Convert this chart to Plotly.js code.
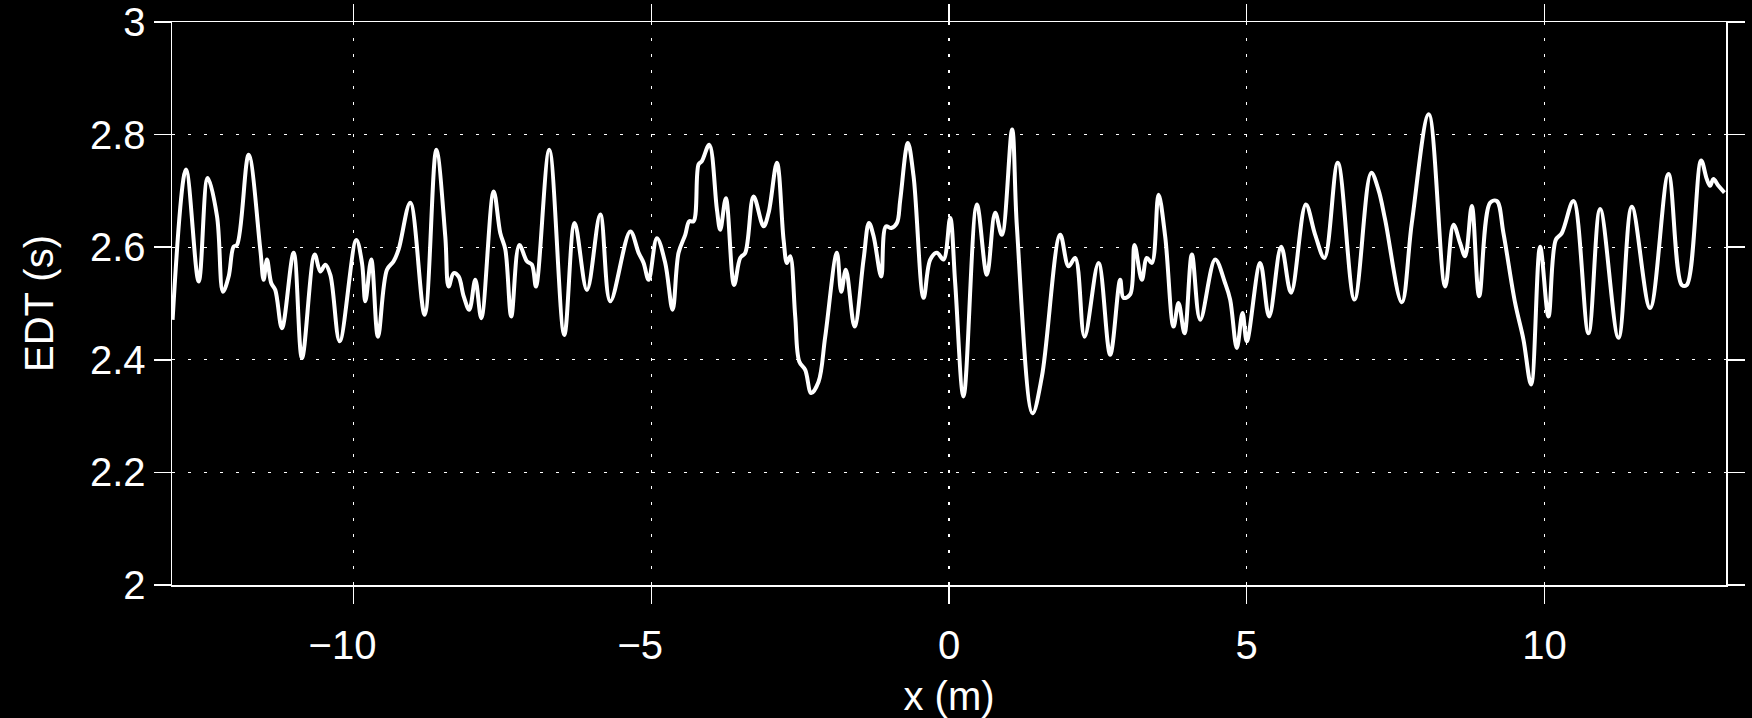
<!DOCTYPE html>
<html>
<head>
<meta charset="utf-8">
<script src="https://cdn.plot.ly/plotly-3.0.1.min.js"></script>
<style>
  html, body { margin: 0; padding: 0; background: #000; }
  #chart { width: 1752px; height: 718px; }
</style>
</head>
<body>
<div id="chart"></div>
<script>
// Position along the room (m)
const xPos = [
  -13.04, -12.815, -12.602, -12.451, -12.294, -12.194, -12.098, -12.015, -11.958, -11.763,
  -11.567, -11.511, -11.455, -11.382, -11.315, -11.203, -11.007, -10.867, -10.654, -10.559,
  -10.475, -10.391, -10.234, -9.955, -9.859, -9.803, -9.703, -9.591, -9.440, -9.328,
  -9.244, -9.048, -8.807, -8.611, -8.460, -8.404, -8.320, -8.236, -8.152, -8.057,
  -7.956, -7.855, -7.648, -7.536, -7.452, -7.352, -7.217, -7.089, -7.005, -6.937,
  -6.714, -6.462, -6.288, -6.081, -5.857, -5.689, -5.353, -5.213, -5.129, -5.045,
  -4.906, -4.766, -4.642, -4.542, -4.430, -4.363, -4.290, -4.206, -4.150, -4.027,
  -3.898, -3.842, -3.747, -3.610, -3.506, -3.422, -3.282, -3.114, -3.030, -2.890,
  -2.778, -2.722, -2.667, -2.583, -2.515, -2.415, -2.314, -2.191, -2.079, -1.883,
  -1.810, -1.732, -1.586, -1.435, -1.345, -1.267, -1.138, -1.060, -0.970, -0.875,
  -0.819, -0.691, -0.595, -0.427, -0.315, -0.203, -0.092, 0.020, 0.104, 0.244,
  0.468, 0.636, 0.776, 0.888, 1.060, 1.140, 1.403, 1.560, 1.868, 2.008,
  2.119, 2.276, 2.511, 2.707, 2.875, 2.931, 3.043, 3.116, 3.239, 3.323,
  3.407, 3.519, 3.631, 3.771, 3.855, 3.956, 4.079, 4.219, 4.471, 4.638,
  4.722, 4.834, 4.930, 5.002, 5.226, 5.377, 5.579, 5.745, 5.993, 6.150,
  6.306, 6.530, 6.810, 7.090, 7.213, 7.325, 7.605, 7.773, 8.058, 8.333,
  8.473, 8.585, 8.669, 8.781, 8.904, 9.088, 9.200, 9.312, 9.508, 9.648,
  9.777, 9.928, 10.068, 10.191, 10.292, 10.488, 10.740, 10.936, 11.244, 11.468,
  11.775, 12.083, 12.307, 12.391, 12.632, 12.727, 12.783, 12.839, 12.923, 13.024
];

// Early decay time (s)
const edt = [
  2.471, 2.738, 2.539, 2.723, 2.655, 2.521, 2.548, 2.601, 2.604, 2.764,
  2.596, 2.542, 2.578, 2.536, 2.524, 2.456, 2.590, 2.403, 2.587, 2.557,
  2.569, 2.551, 2.433, 2.613, 2.572, 2.504, 2.578, 2.441, 2.560, 2.575,
  2.596, 2.679, 2.480, 2.773, 2.619, 2.530, 2.554, 2.548, 2.513, 2.489,
  2.542, 2.474, 2.699, 2.625, 2.596, 2.477, 2.604, 2.575, 2.569, 2.530,
  2.773, 2.444, 2.643, 2.524, 2.658, 2.504, 2.628, 2.590, 2.572, 2.542,
  2.616, 2.572, 2.489, 2.590, 2.622, 2.646, 2.646, 2.747, 2.753, 2.782,
  2.667, 2.631, 2.687, 2.533, 2.581, 2.590, 2.690, 2.637, 2.661, 2.750,
  2.613, 2.572, 2.584, 2.477, 2.397, 2.382, 2.341, 2.361, 2.441, 2.590,
  2.521, 2.560, 2.459, 2.578, 2.643, 2.620, 2.548, 2.637, 2.634, 2.643,
  2.684, 2.785, 2.726, 2.510, 2.578, 2.590, 2.578, 2.652, 2.536, 2.335,
  2.676, 2.551, 2.661, 2.622, 2.809, 2.637, 2.305, 2.370, 2.622, 2.566,
  2.581, 2.441, 2.572, 2.409, 2.542, 2.510, 2.516, 2.604, 2.542, 2.581,
  2.572, 2.693, 2.619, 2.459, 2.501, 2.447, 2.587, 2.471, 2.578, 2.536,
  2.507, 2.421, 2.483, 2.433, 2.572, 2.477, 2.601, 2.519, 2.676, 2.622,
  2.581, 2.750, 2.507, 2.732, 2.702, 2.649, 2.502, 2.643, 2.836, 2.530,
  2.640, 2.607, 2.584, 2.673, 2.513, 2.679, 2.682, 2.625, 2.501, 2.436,
  2.356, 2.601, 2.477, 2.613, 2.625, 2.682, 2.447, 2.668, 2.439, 2.672,
  2.492, 2.730, 2.533, 2.533, 2.754, 2.721, 2.709, 2.721, 2.709, 2.697
];

const xTicks = [-10, -5, 0, 5, 10];
// digits centred on the tick, minus sign hanging to the left (as in the original)
const xTickText = ['\u221210\u00A0\u00A0', '\u22125\u00A0\u00A0', '0', '5', '10'];
const yTicks = [2, 2.2, 2.4, 2.6, 2.8, 3];
const yTickText = ['2', '2.2', '2.4', '2.6', '2.8', '3'];

const FONT = 'Liberation Sans, Arial, Helvetica, sans-serif';

const trace = {
  x: xPos,
  y: edt,
  type: 'scatter',
  mode: 'lines',
  line: { color: '#ffffff', width: 4, shape: 'spline', smoothing: 1 },
  hoverinfo: 'skip'
};

const axisCommon = {
  showline: true,
  linecolor: '#ffffff',
  linewidth: 1.5,
  mirror: 'allticks',
  ticks: 'outside',
  ticklen: 17,
  tickwidth: 1.5,
  tickcolor: '#ffffff',
  showgrid: true,
  gridcolor: '#ffffff',
  gridwidth: 1.2,
  griddash: '3px,13px',
  zeroline: false,
  tickfont: { family: FONT, size: 40, color: '#ffffff' }
};

const layout = {
  width: 1752,
  height: 718,
  paper_bgcolor: '#000000',
  plot_bgcolor: '#000000',
  showlegend: false,
  margin: { l: 172, r: 26, t: 22, b: 133 },
  xaxis: Object.assign({}, axisCommon, {
    range: [-13.05, 13.05],
    tickmode: 'array',
    tickvals: xTicks,
    ticktext: xTickText,
    ticklabelstandoff: 7,
    title: { text: 'x (m)', font: { family: FONT, size: 40, color: '#ffffff' }, standoff: 16 }
  }),
  yaxis: Object.assign({}, axisCommon, {
    range: [2, 3],
    tickmode: 'array',
    tickvals: yTicks,
    ticktext: yTickText,
    title: { text: 'EDT (s)', font: { family: FONT, size: 40, color: '#ffffff' }, standoff: 24 }
  })
};

Plotly.newPlot('chart', [trace], layout, { staticPlot: true, displayModeBar: false });
</script>
</body>
</html>
